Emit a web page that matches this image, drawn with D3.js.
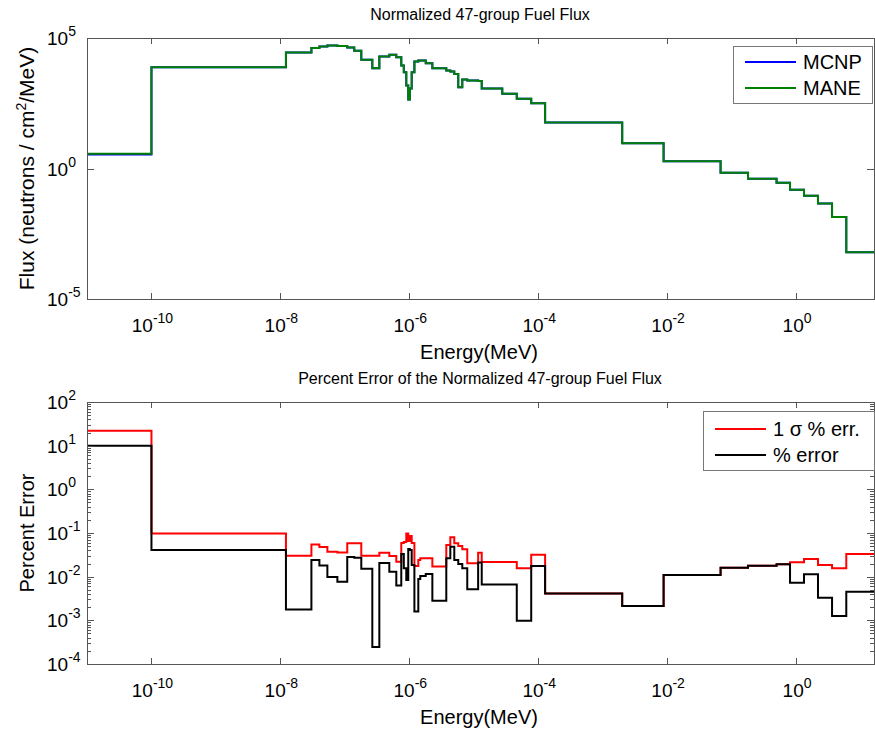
<!DOCTYPE html>
<html>
<head>
<meta charset="utf-8">
<script src="https://cdn.jsdelivr.net/npm/d3@7"></script>
<style>
  body { margin: 0; background: #fff; }
  svg { display: block; }
  text { font-family: "Liberation Sans", Arial, Helvetica, sans-serif; fill: #000; }
</style>
</head>
<body>
<svg id="chart" width="875" height="729"></svg>
<script>
// group boundaries (MeV), 48 edges -> 47 groups
const edges = [1e-11, 1e-10, 1.22e-8, 3.03e-8, 4.03e-8, 5.36e-8, 7.66e-8, 1.09e-7, 1.40e-7, 1.80e-7,
  2.67e-7, 3.43e-7, 4.90e-7, 6.29e-7, 7.51e-7, 8.22e-7, 8.98e-7, 9.64e-7, 1.02e-6, 1.09e-6,
  1.20e-6, 1.38e-6, 1.48e-6, 1.80e-6, 2.28e-6, 3.75e-6, 4.33e-6, 4.99e-6, 5.75e-6, 6.64e-6,
  7.93e-6, 1.17e-5, 1.33e-5, 2.77e-5, 4.65e-5, 7.79e-5, 1.28e-4, 2.01e-3, 8.82e-3, 6.75e-2,
  0.180, 0.499, 0.807, 1.33, 2.19, 3.62, 6.02, 16.2];

// normalized flux per group
const mcnpFlux = [3.45, 7600, 27800, 41400, 47200, 51600, 49400, 43200, 32300, 14600,
  6970, 19500, 22700, 18400, 8840, 4890, 1510, 440, 1160, 4890,
  12600, 13700, 13700, 10800, 6970, 5690, 5200, 4180, 1300, 2570,
  2350, 2250, 1160, 728, 468, 318, 57.8, 9.31, 1.90, 0.684,
  0.403, 0.286, 0.153, 0.0908, 0.0456, 0.0139, 6.21e-4];
const maneFlux = [3.66, 7600, 27800, 41400, 47200, 51600, 49400, 43200, 32300, 14600,
  6970, 19500, 22700, 18400, 8840, 4890, 1510, 440, 1160, 4890,
  12600, 13700, 13700, 10800, 6970, 5690, 5200, 4180, 1300, 2570,
  2350, 2250, 1160, 728, 468, 318, 57.8, 9.31, 1.90, 0.684,
  0.403, 0.286, 0.153, 0.0908, 0.0456, 0.0139, 6.21e-4];

// percent errors per group
const sigmaErr = [22.0, 0.098, 0.030, 0.0546, 0.0478, 0.0373, 0.0358, 0.0581, 0.058, 0.0301,
  0.030, 0.0354, 0.0298, 0.0220, 0.059, 0.062, 0.098, 0.066, 0.085, 0.059,
  0.0176, 0.0241, 0.0264, 0.0264, 0.0171, 0.0531, 0.0798, 0.058, 0.0504, 0.0423,
  0.0202, 0.0354, 0.0217, 0.0217, 0.0156, 0.0318, 0.00412, 0.00213, 0.0109, 0.0161,
  0.0178, 0.0192, 0.0213, 0.0254, 0.0185, 0.0156, 0.033];
const pctErr = [10.0, 0.041, 0.00177, 0.0241, 0.018, 0.00984, 0.00768, 0.0282, 0.027, 0.0151,
  0.000245, 0.0206, 0.0130, 0.00628, 0.033, 0.0156, 0.0084, 0.043, 0.041, 0.0185,
  0.0016, 0.00885, 0.0104, 0.0115, 0.00282, 0.0264, 0.0486, 0.0241, 0.0195, 0.0156,
  0.00514, 0.0211, 0.00662, 0.00662, 0.00098, 0.0176, 0.00412, 0.00213, 0.0109, 0.0161,
  0.0178, 0.0192, 0.00728, 0.01135, 0.0033, 0.00126, 0.00453];

const xTickExps = [-10, -8, -6, -4, -2, 0];

const svg = d3.select('#chart');
const left = 87, right = 874;
const axisColor = '#555';

const x = d3.scaleLog().domain([1e-11, 16.2]).range([left, right]);

function steps(vals) {
  const pts = vals.map((v, i) => [edges[i], v]);
  pts.push([edges[edges.length - 1], vals[vals.length - 1]]);
  return pts;
}

function powText(sel, exp) {
  sel.append('tspan').text('10');
  sel.append('tspan').attr('dy', -9).attr('font-size', 14).text(exp);
}

function drawPanel(cfg) {
  const { top, bottom, yDomain, yTickExps, minor, id } = cfg;
  const y = d3.scaleLog().domain(yDomain).range([bottom, top]);
  const g = svg.append('g');

  g.append('clipPath').attr('id', id).append('rect')
    .attr('x', left).attr('y', top).attr('width', right - left).attr('height', bottom - top);

  // lines
  const line = d3.line().x(d => x(d[0])).y(d => y(d[1])).curve(d3.curveStepAfter);
  cfg.series.forEach(s => {
    g.append('path')
      .attr('clip-path', `url(#${id})`)
      .attr('d', line(steps(s.values)))
      .attr('fill', 'none')
      .attr('stroke', s.color)
      .attr('stroke-width', 2);
  });

  // ticks (inward, on all four sides)
  const tk = g.append('g').attr('stroke', axisColor).attr('stroke-width', 1);
  xTickExps.forEach(e => {
    const px = Math.round(x(Math.pow(10, e))) + 0.5;
    tk.append('line').attr('x1', px).attr('x2', px).attr('y1', bottom).attr('y2', bottom - 6);
    tk.append('line').attr('x1', px).attr('x2', px).attr('y1', top).attr('y2', top + 6);
  });
  yTickExps.forEach(e => {
    const py = Math.round(y(Math.pow(10, e))) + 0.5;
    tk.append('line').attr('x1', left).attr('x2', left + 7).attr('y1', py).attr('y2', py);
    tk.append('line').attr('x1', right).attr('x2', right - 7).attr('y1', py).attr('y2', py);
  });
  if (minor) {
    yTickExps.slice(0, -1).forEach(e => {
      for (let m = 2; m <= 9; m++) {
        const py = Math.round(y(m * Math.pow(10, e))) + 0.5;
        tk.append('line').attr('x1', left).attr('x2', left + 4).attr('y1', py).attr('y2', py);
        tk.append('line').attr('x1', right).attr('x2', right - 4).attr('y1', py).attr('y2', py);
      }
    });
  }

  // box
  g.append('rect')
    .attr('x', left + 0.5).attr('y', top + 0.5)
    .attr('width', right - left).attr('height', bottom - top)
    .attr('fill', 'none').attr('stroke', axisColor);

  // tick labels
  xTickExps.forEach(e => {
    g.append('text')
      .attr('x', x(Math.pow(10, e)) + 1)
      .attr('y', bottom + 33)
      .attr('text-anchor', 'middle')
      .attr('font-size', 19)
      .call(powText, String(e));
  });
  yTickExps.forEach(e => {
    g.append('text')
      .attr('x', 47)
      .attr('y', y(Math.pow(10, e)) + 7)
      .attr('font-size', 19)
      .call(powText, String(e));
  });

  // title and axis labels
  g.append('text')
    .attr('x', 480).attr('y', top - 18)
    .attr('text-anchor', 'middle').attr('font-size', 16)
    .text(cfg.title);
  g.append('text')
    .attr('x', 479).attr('y', bottom + 60)
    .attr('text-anchor', 'middle').attr('font-size', 20)
    .text('Energy(MeV)');
  const yl = g.append('text')
    .attr('transform', `translate(34,${(top + bottom) / 2}) rotate(-90)`)
    .attr('text-anchor', 'middle').attr('font-size', cfg.ylabelSize);
  cfg.ylabel(yl);

  // legend
  const lg = cfg.legend;
  const lgG = g.append('g');
  lgG.append('rect')
    .attr('x', lg.x + 0.5).attr('y', lg.y + 0.5)
    .attr('width', lg.w).attr('height', lg.h)
    .attr('fill', '#fff').attr('stroke', '#777');
  lg.items.forEach((it, i) => {
    const cy = lg.y + lg.row0 + i * lg.dy;
    lgG.append('line')
      .attr('x1', lg.x + 12).attr('x2', lg.x + 63)
      .attr('y1', cy).attr('y2', cy)
      .attr('stroke', it.color).attr('stroke-width', 2);
    lgG.append('text')
      .attr('x', lg.x + 70).attr('y', cy + 7)
      .attr('font-size', 20)
      .text(it.label);
  });
}

drawPanel({
  id: 'clipTop',
  top: 38, bottom: 299,
  yDomain: [1e-5, 1e5],
  yTickExps: [-5, 0, 5],
  minor: false,
  title: 'Normalized 47-group Fuel Flux',
  ylabelSize: 21,
  ylabel: t => {
    t.append('tspan').text('Flux (neutrons / cm');
    t.append('tspan').attr('dy', -8).attr('font-size', 14).text('2');
    t.append('tspan').attr('dy', 8).text('/MeV)');
  },
  series: [
    { values: mcnpFlux, color: '#0000ff' },
    { values: maneFlux, color: '#008000' }
  ],
  legend: {
    x: 733, y: 46, w: 139, h: 57, row0: 16, dy: 26,
    items: [{ label: 'MCNP', color: '#0000ff' }, { label: 'MANE', color: '#008000' }]
  }
});

drawPanel({
  id: 'clipBottom',
  top: 402, bottom: 664,
  yDomain: [1e-4, 1e2],
  yTickExps: [-4, -3, -2, -1, 0, 1, 2],
  minor: true,
  title: 'Percent Error of the Normalized 47-group Fuel Flux',
  ylabelSize: 20,
  ylabel: t => t.text('Percent Error'),
  series: [
    { values: sigmaErr, color: '#ff0000' },
    { values: pctErr, color: '#000000' }
  ],
  legend: {
    x: 703, y: 411, w: 171, h: 59, row0: 18, dy: 26,
    items: [{ label: '1 σ % err.', color: '#ff0000' }, { label: '% error', color: '#000000' }]
  }
});
</script>
</body>
</html>
